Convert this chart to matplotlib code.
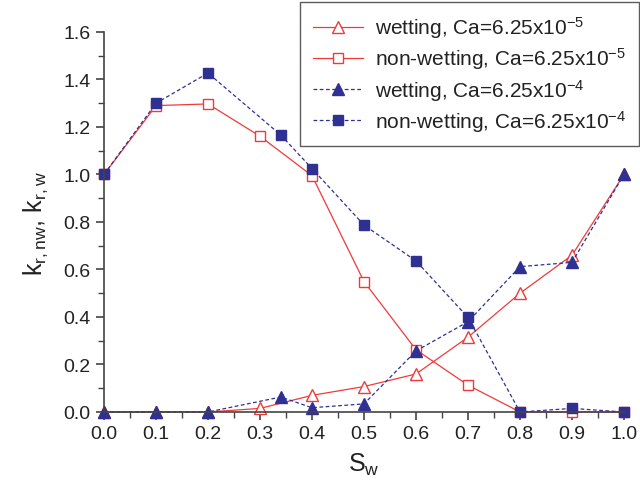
import numpy as np
import matplotlib
matplotlib.use('Agg')
import matplotlib.pyplot as plt
from matplotlib.ticker import MultipleLocator

plt.rcParams['font.family'] = ['Liberation Sans', 'DejaVu Sans']
plt.rcParams['mathtext.default'] = 'regular'

# red series, Ca=6.25x10^-5
sw_low = [0.0, 0.1, 0.2, 0.3, 0.4, 0.5, 0.6, 0.7, 0.8, 0.9, 1.0]
kw_low = [0.0, 0.0, 0.0, 0.015, 0.07, 0.107, 0.16, 0.315, 0.50, 0.66, 1.0]
knw_low = [1.0, 1.29, 1.297, 1.161, 0.995, 0.549, 0.262, 0.113, 0.0, 0.0, 0.0]

# blue series, Ca=6.25x10^-4
sw_high = [0.0, 0.1, 0.2, 0.34, 0.4, 0.5, 0.6, 0.7, 0.8, 0.9, 1.0]
kw_high = [0.0, 0.0, 0.0, 0.063, 0.018, 0.034, 0.257, 0.38, 0.612, 0.63, 1.0]
knw_high = [1.0, 1.30, 1.427, 1.166, 1.025, 0.787, 0.636, 0.398, 0.0, 0.015, 0.0]

red = '#f03a3a'
blue = '#2e3192'

fig = plt.figure(figsize=(6.4, 4.85), dpi=100)
ax = fig.add_axes([0.1625, 0.1485, 0.8125, 0.7835])

ax.plot(sw_low, kw_low, color=red, lw=0.9, marker='^', ms=8.5,
        mfc='white', mec=red, mew=1.0,
        label='wetting, Ca=6.25x10$^{-5}$')
ax.plot(sw_low, knw_low, color=red, lw=0.9, marker='s', ms=7.5,
        mfc='white', mec=red, mew=1.0,
        label='non-wetting, Ca=6.25x10$^{-5}$')
ax.plot(sw_high, kw_high, color=blue, lw=0.9, ls=(0, (3, 2)), marker='^', ms=8.5,
        mfc=blue, mec=blue,
        label='wetting, Ca=6.25x10$^{-4}$')
ax.plot(sw_high, knw_high, color=blue, lw=0.9, ls=(0, (3, 2)), marker='s', ms=7.5,
        mfc=blue, mec=blue,
        label='non-wetting, Ca=6.25x10$^{-4}$')

ax.set_xlim(0, 1.0)
ax.set_ylim(0, 1.6)
ax.xaxis.set_major_locator(MultipleLocator(0.1))
ax.xaxis.set_minor_locator(MultipleLocator(0.05))
ax.yaxis.set_major_locator(MultipleLocator(0.2))
ax.yaxis.set_minor_locator(MultipleLocator(0.1))
ax.xaxis.set_major_formatter(plt.FormatStrFormatter('%.1f'))
ax.yaxis.set_major_formatter(plt.FormatStrFormatter('%.1f'))

for s in ['top', 'right']:
    ax.spines[s].set_visible(False)
for s in ['left', 'bottom']:
    ax.spines[s].set_color('#444444')
    ax.spines[s].set_linewidth(1.2)
ax.tick_params(which='major', direction='out', length=6, width=1.2,
               color='#444444', labelsize=14, labelcolor='#222222')
ax.tick_params(which='minor', direction='out', length=4, width=1.0,
               color='#444444')

ax.set_xlabel('S$_w$', fontsize=18, color='#222222', labelpad=6)
ax.set_ylabel('k$_{r,nw}$, k$_{r,w}$', fontsize=18, color='#222222', labelpad=10)

leg = ax.legend(loc='upper right', bbox_to_anchor=(0.998, 0.994),
                bbox_transform=fig.transFigure, fontsize=15,
                frameon=True, fancybox=False, handlelength=2.4,
                borderpad=0.6, labelspacing=0.25, borderaxespad=0,
                handletextpad=0.6)
leg.get_frame().set_edgecolor('#333333')
leg.get_frame().set_linewidth(1.0)
for t in leg.get_texts():
    t.set_color('#222222')

for ln in ax.lines:
    ln.set_clip_on(False)

fig.savefig('out.png', dpi=100)
